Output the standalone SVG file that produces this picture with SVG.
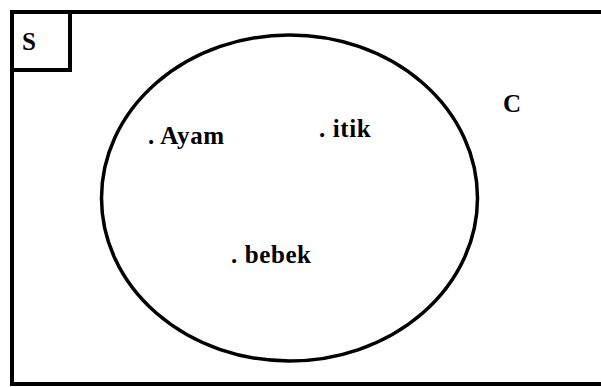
<svg xmlns="http://www.w3.org/2000/svg" width="601" height="387" viewBox="0 0 601 387">
<style>
.ln{fill:none;stroke:#000;stroke-width:4}
.t{font-family:"Liberation Serif","Times New Roman",serif;font-weight:bold;font-size:25px;letter-spacing:0.6px;fill:#000}
</style>
<rect width="601" height="387" fill="#fff"/>
<g id="universe">
<path class="ln" d="M12,386 V12 H603"/>
<path class="ln" d="M10,384 H603"/>
</g>
<g id="label-S">
<path class="ln" d="M12,70 H70 V12"/>
<text class="t" x="22" y="50">S</text>
</g>
<g id="set-C">
<ellipse class="ln" cx="289.5" cy="198" rx="188" ry="163" style="stroke-width:3.5"/>
<text class="t" x="503" y="112">C</text>
</g>
<g id="ayam"><text class="t" x="148" y="144">. Ayam</text></g>
<g id="itik"><text class="t" x="319" y="137">. itik</text></g>
<g id="bebek"><text class="t" x="231" y="263">. bebek</text></g>
</svg>
